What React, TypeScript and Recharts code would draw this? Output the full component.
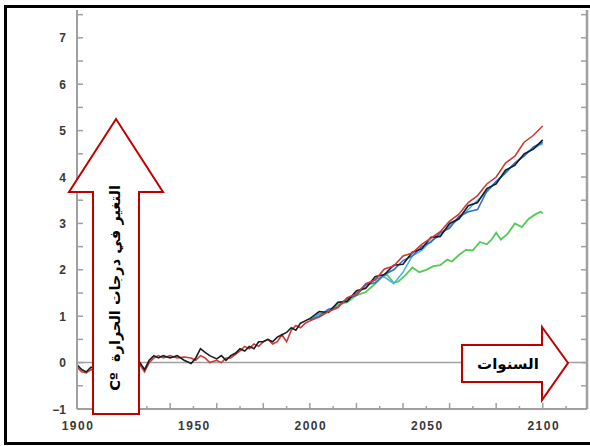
import React from "react";
import { LineChart, Line, XAxis, YAxis, ReferenceLine } from "recharts";

const histYears = [1900,1902,1904,1906,1910,1915,1920,1925,1927,1929,1931,1933,1935,1937,1940,1943,1946,1949,1951,1953,1955,1957,1960,1962,1964,1966,1968,1970,1972,1974,1976,1978,1980,1982,1984,1986,1988,1990,1992,1994,1996,1998,2000];
const histBlack = [-0.05,-0.15,-0.2,-0.1,-0.2,-0.15,-0.1,-0.05,0.0,-0.15,0.05,0.15,0.1,0.15,0.1,0.15,0.05,-0.02,0.1,0.3,0.22,0.15,0.08,0.15,0.05,0.15,0.2,0.3,0.25,0.35,0.3,0.45,0.45,0.5,0.45,0.55,0.6,0.65,0.75,0.7,0.85,0.9,0.95];
const histRed = [-0.1,-0.2,-0.22,-0.15,-0.2,-0.15,-0.12,-0.08,-0.05,-0.2,0.0,0.1,0.15,0.1,0.15,0.1,0.12,0.1,0.05,0.15,0.1,0.0,0.05,0.0,0.1,0.1,0.18,0.25,0.35,0.3,0.4,0.35,0.45,0.5,0.4,0.45,0.6,0.45,0.7,0.8,0.75,0.85,0.9];

const futYears = [2000,2004,2008,2012,2016,2020,2024,2028,2032,2036,2040,2044,2048,2052,2056,2060,2064,2068,2072,2076,2080,2084,2088,2092,2096,2100];
const futRed = [0.9,0.98,1.1,1.18,1.4,1.48,1.7,1.78,2.02,2.08,2.3,2.36,2.55,2.68,2.82,3.05,3.2,3.45,3.6,3.85,4.0,4.3,4.45,4.75,4.9,5.1];
const futBlack = [0.95,1.1,1.08,1.3,1.32,1.55,1.6,1.85,1.9,2.1,2.12,2.38,2.45,2.7,2.72,3.0,3.1,3.38,3.45,3.75,3.85,4.15,4.25,4.5,4.6,4.8];
const futBlue = [0.92,1.0,1.15,1.2,1.38,1.45,1.68,1.72,1.9,2.0,2.2,2.3,2.5,2.6,2.8,2.9,3.15,3.25,3.3,3.7,3.9,4.1,4.3,4.45,4.65,4.75];
const futCyan = [0.9,1.05,1.1,1.28,1.35,1.5,1.62,1.8,1.85,1.7,1.95,2.3,2.42,2.62,2.75,2.95,3.1,3.3,3.5,3.68,3.9,4.08,4.3,4.48,4.62,4.72];

const greenYears = [2000,2004,2008,2012,2016,2020,2024,2028,2031,2033,2036,2038,2041,2044,2047,2050,2053,2056,2059,2061,2064,2067,2070,2073,2076,2078,2080,2082,2085,2088,2091,2094,2097,2099,2100];
const greenVals = [0.9,1.05,1.1,1.25,1.3,1.45,1.52,1.7,1.85,1.9,1.72,1.75,1.88,2.05,1.95,2.0,2.08,2.1,2.22,2.18,2.32,2.43,2.42,2.6,2.55,2.65,2.8,2.65,2.78,3.0,2.92,3.1,3.2,3.25,3.22];

const yTicks = [-1,-0.5,0,0.5,1,1.5,2,2.5,3,3.5,4,4.5,5,5.5,6,6.5,7,7.5];
const xTicks = [1900,1910,1920,1930,1940,1950,1960,1970,1980,1990,2000,2010,2020,2030,2040,2050,2060,2070,2080,2090,2100,2110];
const xLabels = [1900,1950,2000,2050,2100];

const yAxisTitle = "التغير في درجات الحرارة  Cº";
const xAxisTitle = "السنوات";

const toSeries = (xs: number[], vs: number[]) => xs.map((year, i) => ({ year, v: vs[i] }));

const AXIS = "#a0a0a0";
const LABEL = "#383838";

const LeftTick = (props: any) => {
  const { x, y, payload } = props;
  const v = payload.value;
  const isInt = Number.isInteger(v);
  return (
    <g>
      <line x1={x} x2={x + 6} y1={y} y2={y} stroke={AXIS} strokeWidth={1.5} />
      {isInt && (
        <text x={x - 11} y={y + 4.5} textAnchor="end" fontSize={12} fontWeight="bold" fontFamily="Liberation Sans, Arial, sans-serif" fill={LABEL}>
          {v < 0 ? "\u2212" + Math.abs(v) : v}
        </text>
      )}
    </g>
  );
};

const RightTick = (props: any) => {
  const { x, y } = props;
  return <line x1={x - 6} x2={x} y1={y} y2={y} stroke={AXIS} strokeWidth={1.5} />;
};

const BottomTick = (props: any) => {
  const { x, y, payload } = props;
  const v = payload.value;
  const tall = v % 20 === 0;
  return (
    <g>
      <line x1={x} x2={x} y1={y} y2={y - (tall ? 6 : 3)} stroke={AXIS} strokeWidth={1.5} />
      {xLabels.includes(v) && (
        <text x={x + 1} y={y + 21} textAnchor="middle" fontSize={12} fontWeight="bold" letterSpacing={1.5} fontFamily="Liberation Sans, Arial, sans-serif" fill={LABEL}>
          {v}
        </text>
      )}
    </g>
  );
};

export default function App() {
  const lineProps = { type: "linear" as const, dataKey: "v", dot: false, isAnimationActive: false, yAxisId: "l", strokeWidth: 1.6 };
  return (
    <div style={{ position: "absolute", left: 0, top: 0, width: 590, height: 446, background: "#fff" }}>
      <LineChart width={590} height={446} margin={{ top: 10, right: 2, bottom: 7, left: 47 }}>
        <XAxis dataKey="year" type="number" domain={[1900, 2119]} ticks={xTicks} allowDataOverflow
          height={30} tickSize={0} tickMargin={0} tickLine={false} interval={0}
          axisLine={{ stroke: AXIS, strokeWidth: 2 }} tick={<BottomTick />} />
        <YAxis yAxisId="l" type="number" domain={[-1, 7.6]} ticks={yTicks} allowDataOverflow
          width={30} tickSize={0} tickMargin={0} tickLine={false} interval={0}
          axisLine={{ stroke: AXIS, strokeWidth: 2 }} tick={<LeftTick />} />
        <YAxis yAxisId="r" orientation="right" type="number" domain={[-1, 7.6]} ticks={yTicks} allowDataOverflow
          width={1} tickSize={0} tickMargin={0} tickLine={false} interval={0}
          axisLine={{ stroke: AXIS, strokeWidth: 2.5 }} tick={<RightTick />} />
        <ReferenceLine yAxisId="l" y={0} stroke={AXIS} strokeWidth={1.5} />
        <Line {...lineProps} data={toSeries(greenYears, greenVals)} stroke="#52cc52" strokeWidth={1.8} />
        <Line {...lineProps} data={toSeries(futYears, futCyan)} stroke="#45b4e4" />
        <Line {...lineProps} data={toSeries(futYears, futBlue)} stroke="#2f6fcc" />
        <Line {...lineProps} data={toSeries(futYears, futBlack)} stroke="#1c1c1c" />
        <Line {...lineProps} data={toSeries(futYears, futRed)} stroke="#cc3a3a" />
        <Line {...lineProps} data={toSeries(histYears, histRed)} stroke="#cc3a3a" />
        <Line {...lineProps} data={toSeries(histYears, histBlack)} stroke="#1c1c1c" />
      </LineChart>
      <svg width={590} height={446} style={{ position: "absolute", left: 0, top: 0, pointerEvents: "none" }}>
        <rect x={5.5} y={6.5} width={588} height={437} fill="none" stroke="#000" strokeWidth={3} />
        <polygon points="93,414 93,192 69,192 116,119 163,192 139,192 139,414" fill="#fff" stroke="#c00000" strokeWidth={2} />
        <text transform="translate(115,288) rotate(-90)" textAnchor="middle" dominantBaseline="central" direction="rtl"
          fontSize={14.5} fontWeight="bold" fontFamily="DejaVu Sans, sans-serif" fill="#000" style={{ whiteSpace: "pre", direction: "rtl", unicodeBidi: "embed" }}>
          {yAxisTitle}
        </text>
        <polygon points="462,345 542,345 542,327 568,363 542,400 542,382 462,382" fill="#fff" stroke="#c00000" strokeWidth={2} />
        <text x={508} y={364} textAnchor="middle" dominantBaseline="central" fontSize={15} fontWeight="bold"
          fontFamily="DejaVu Sans, sans-serif" fill="#000">
          {xAxisTitle}
        </text>
      </svg>
    </div>
  );
}
